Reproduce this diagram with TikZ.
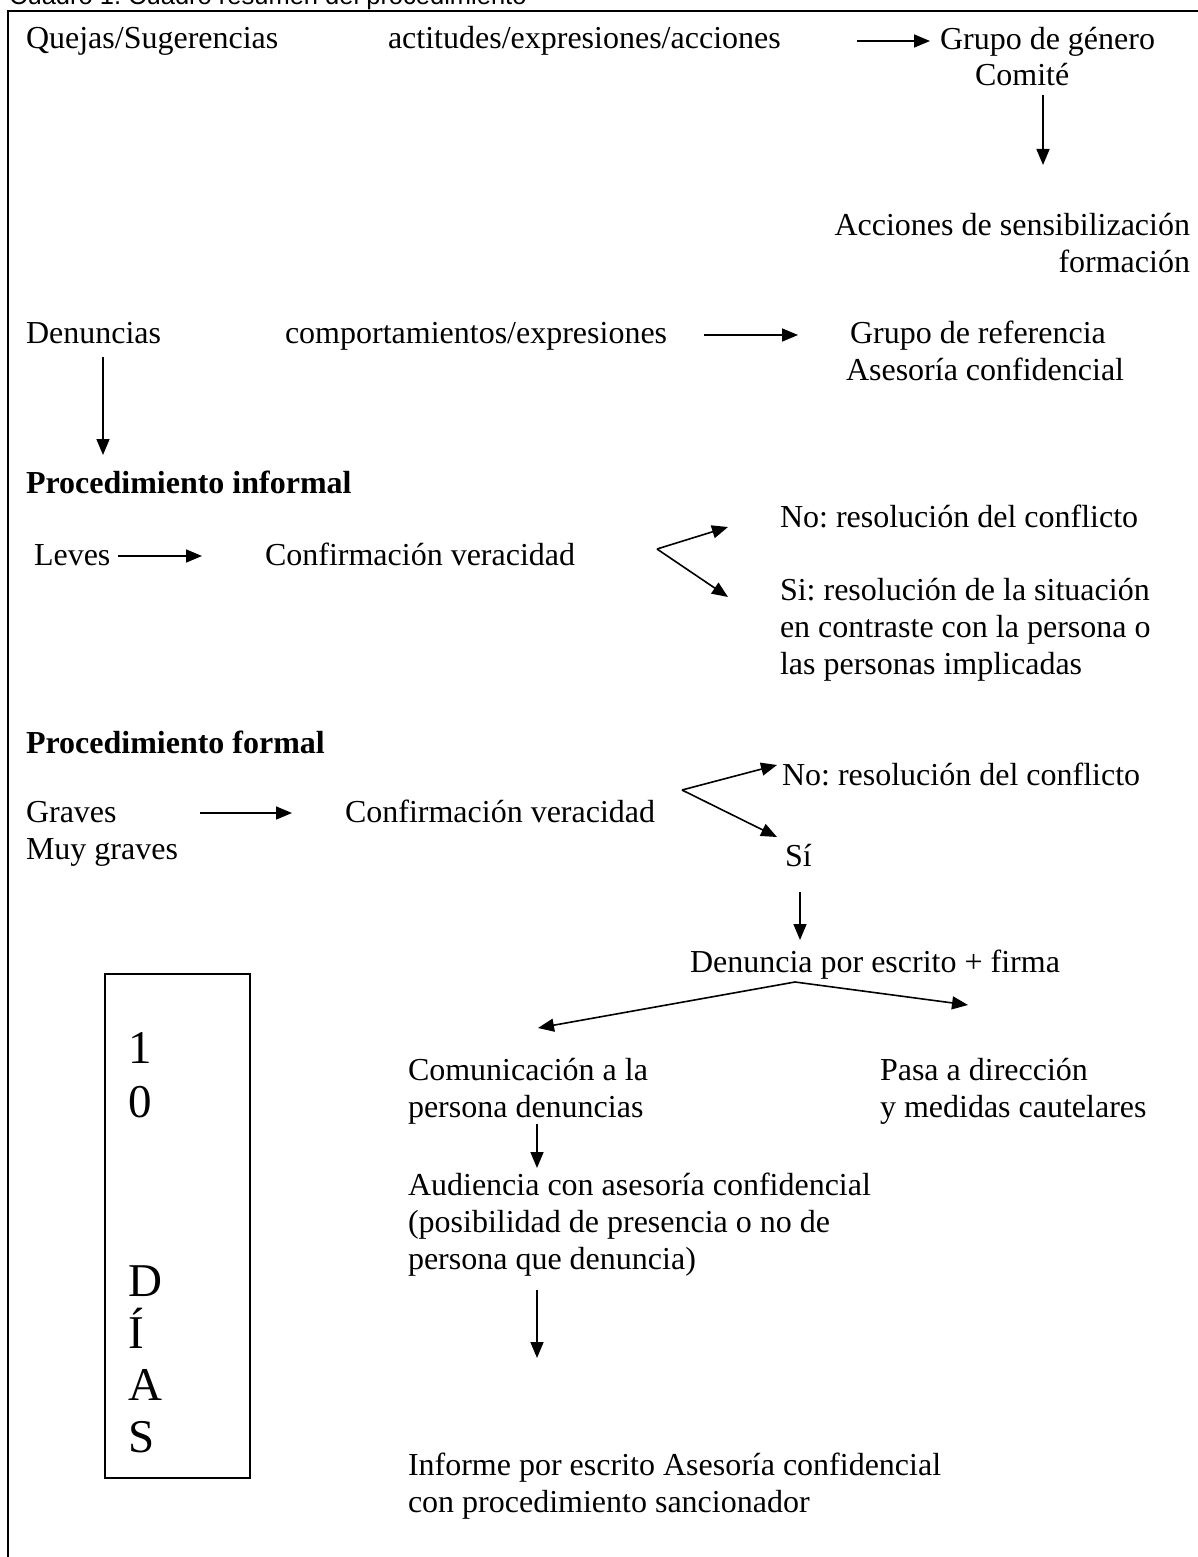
\documentclass[tikz,border=0pt]{standalone}
\usepackage{fontspec}
\setmainfont{Liberation Serif}
\newfontfamily\arialf{Liberation Sans}
\usetikzlibrary{arrows.meta}
\newcommand\fsmain{\fontsize{32}{37}\selectfont}
\newcommand\fsbig{\fontsize{47}{52}\selectfont}
\frenchspacing
\begin{document}
\begin{tikzpicture}[x=1pt,y=-1pt,
  txt/.style={anchor=base west, inner sep=0pt, outer sep=0pt, align=left, font=\fsmain},
  rtxt/.style={anchor=base east, inner sep=0pt, outer sep=0pt, align=right, font=\fsmain},
  btxt/.style={txt, font=\fsmain\bfseries},
  arr/.style={-{Triangle[length=16pt,width=13pt]}, line width=1.6pt},
  frame/.style={line width=2pt}]
\useasboundingbox (0,0) rectangle (1198,1557);
% outer frame (left and top edges)
\draw[frame] (8,1600) -- (8,11) -- (1220,11);
\node[anchor=base west, inner sep=0pt] (title) at (9,5) {\arialf\fontsize{25.5}{30}\selectfont\underline{Cuadro 1. Cuadro resumen del procedimiento}};

% row 1
\node[txt] (quejas) at (26,49) {Quejas/Sugerencias};
\node[txt] (actitudes) at (388,49) {actitudes/expresiones/acciones};
\node[txt] (genero) at (940,50) {Grupo de género};
\node[txt] (comite) at (975,86) {Comité};
\coordinate (a1s) at (857,41);
\coordinate (a1e) at (930,41);
\draw[arr] (a1s) -- (a1e);
\coordinate (a2s) at (1043,95);
\coordinate (a2e) at (1043,165);
\draw[arr] (a2s) -- (a2e);
% multi-line nodes are placed at the baseline of their last line
\node[rtxt] (acciones) at (1190,272) {Acciones de sensibilización\\formación};

% row 2
\node[txt] (denuncias) at (26,343) {Denuncias};
\node[txt] (comport) at (285,343) {comportamientos/expresiones};
\node[txt] (referencia) at (846,380) {\hspace*{4pt}Grupo de referencia\\Asesoría confidencial};
\coordinate (a3s) at (704,335);
\coordinate (a3e) at (798,335);
\draw[arr] (a3s) -- (a3e);
\coordinate (a4s) at (103,357);
\coordinate (a4e) at (103,455);
\draw[arr] (a4s) -- (a4e);

% informal
\node[btxt] (pinf) at (26,493) {Procedimiento informal};
\node[txt] (leves) at (34,565) {Leves};
\coordinate (a5s) at (118,556);
\coordinate (a5e) at (202,556);
\draw[arr] (a5s) -- (a5e);
\node[txt] (conf1) at (265,565) {Confirmación veracidad};
\coordinate (f1) at (657,549);
\coordinate (f1a) at (728,527);
\coordinate (f1b) at (728,597);
\draw[arr] (f1) -- (f1a);
\draw[arr] (f1) -- (f1b);
\node[txt] (no1) at (780,527) {No: resolución del conflicto};
\node[txt] (si1) at (780,674) {Si: resolución de la situación\\en contraste con la persona o\\las personas implicadas};

% formal
\node[btxt] (pfor) at (26,753) {Procedimiento formal};
\node[txt] (graves) at (26,859) {Graves\\Muy graves};
\coordinate (a6s) at (200,813);
\coordinate (a6e) at (292,813);
\draw[arr] (a6s) -- (a6e);
\node[txt] (conf2) at (345,822) {Confirmación veracidad};
\coordinate (f2) at (682,790);
\coordinate (f2a) at (777,765);
\coordinate (f2b) at (777,837);
\draw[arr] (f2) -- (f2a);
\draw[arr] (f2) -- (f2b);
\node[txt] (no2) at (782,785) {No: resolución del conflicto};
\node[txt] (si2) at (785,866) {Sí};
\coordinate (a7s) at (800,892);
\coordinate (a7e) at (800,940);
\draw[arr] (a7s) -- (a7e);
\node[txt] (escrito) at (690,972) {Denuncia por escrito + firma};
\coordinate (f3) at (795,982);
\coordinate (f3a) at (538,1028);
\coordinate (f3b) at (968,1005);
\draw[arr] (f3) -- (f3a);
\draw[arr] (f3) -- (f3b);
\node[txt] (comunic) at (408,1117) {Comunicación a la\\persona denuncias};
\node[txt] (pasa) at (880,1117) {Pasa a dirección\\y medidas cautelares};
\coordinate (a8s) at (537,1124);
\coordinate (a8e) at (537,1168);
\draw[arr] (a8s) -- (a8e);
\node[txt] (audiencia) at (408,1269) {Audiencia con asesoría confidencial\\(posibilidad de presencia o no de\\persona que denuncia)};
\coordinate (a9s) at (537,1290);
\coordinate (a9e) at (537,1358);
\draw[arr] (a9s) -- (a9e);
\node[txt] (informe) at (408,1512) {Informe por escrito Asesoría confidencial\\con procedimiento sancionador};

% 10 DIAS box
\draw[frame] (105,974) rectangle (250,1478);
\node[anchor=base west, inner sep=0pt, align=left, font=\fsbig] (dias) at (128,1452) {1\\[2pt]0\\[127pt]D\\Í\\A\\S};
\end{tikzpicture}
\end{document}
